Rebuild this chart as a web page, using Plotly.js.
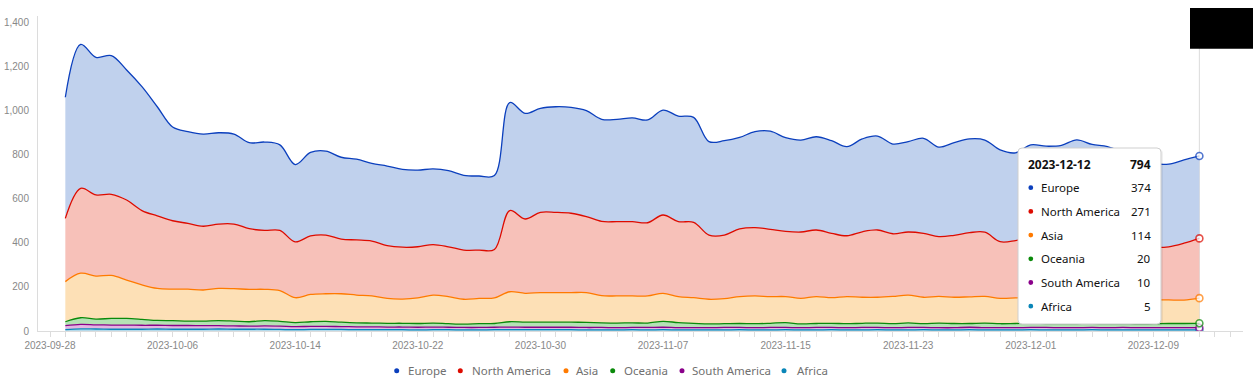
<!DOCTYPE html>
<html><head><meta charset="utf-8">
<script src="https://cdn.plot.ly/plotly-3.0.1.min.js"></script>
<style>html,body{margin:0;padding:0;background:#fff;}#chart{width:1253px;height:382px;}</style>
</head><body><div id="chart"></div>
<script>
const dates = ['2023-09-29','2023-09-30','2023-10-01','2023-10-02','2023-10-03','2023-10-04','2023-10-05','2023-10-06','2023-10-07','2023-10-08',
'2023-10-09','2023-10-10','2023-10-11','2023-10-12','2023-10-13','2023-10-14','2023-10-15','2023-10-16','2023-10-17','2023-10-18',
'2023-10-19','2023-10-20','2023-10-21','2023-10-22','2023-10-23','2023-10-24','2023-10-25','2023-10-26','2023-10-27','2023-10-28',
'2023-10-29','2023-10-30','2023-10-31','2023-11-01','2023-11-02','2023-11-03','2023-11-04','2023-11-05','2023-11-06','2023-11-07',
'2023-11-08','2023-11-09','2023-11-10','2023-11-11','2023-11-12','2023-11-13','2023-11-14','2023-11-15','2023-11-16','2023-11-17',
'2023-11-18','2023-11-19','2023-11-20','2023-11-21','2023-11-22','2023-11-23','2023-11-24','2023-11-25','2023-11-26','2023-11-27',
'2023-11-28','2023-11-29','2023-11-30','2023-12-01','2023-12-02','2023-12-03','2023-12-04','2023-12-05','2023-12-06','2023-12-07',
'2023-12-08','2023-12-09','2023-12-10','2023-12-11','2023-12-12'];

const europe = [549,653,624,629,590,562,495,425,416,418, 414,408,390,401,388,351,379,381,371,366, 352,361,353,348,343,345,339,336,335,490, 479,472,479,480,480,463,464,471,466,476, 479,476,424,428,415,435,445,425,417,423, 420,404,421,426,407,410,431,406,420,425, 418,416,398,419,408,407,437,426,426,410, 390,380,375,378,374];
const northAmerica = [287,385,368,368,363,337,329,310,298,289, 292,293,275,267,273,253,265,266,248,250, 249,239,235,232,229,226,223,219,220,368, 337,364,364,360,345,337,337,337,332,355, 340,342,291,288,307,310,305,296,301,302, 292,276,297,305,284,286,290,271,281,291, 291,257,260,273,280,287,280,272,264,255, 247,238,241,258,271];
const asia = [182,202,195,195,174,156,145,143,145,141, 146,147,147,142,139,113,124,125,129,126, 123,113,110,116,127,123,113,115,116,136, 131,134,134,134,135,123,123,122,123,127, 118,116,112,114,122,126,121,118,116,122, 116,123,118,117,124,126,120,121,119,121, 121,115,116,117,116,115,116,113,113,111, 111,109,107,106,114];
const oceania = [18,30,26,30,30,27,22,22,20,21, 23,22,20,24,22,18,21,23,20,18, 17,17,17,17,18,16,15,17,17,24, 23,23,23,23,23,21,21,21,20,27, 23,20,17,17,18,18,19,22,17,18, 19,18,19,20,18,21,17,21,19,17, 21,18,19,19,18,18,19,19,18,18, 17,18,19,19,20];
const southAmerica = [18,20,19,19,19,18,17,17,17,16, 15,15,14,15,15,14,14,14,13,13, 13,12,12,12,12,11,11,11,11,12, 11,11,11,11,11,11,10,10,11,11, 10,10,10,11,10,10,11,10,10,11, 10,10,11,10,10,11,10,10,10,11, 10,10,10,10,11,10,10,10,10,11, 10,10,10,10,10];
const africa = [6,10,9,8,8,8,9,8,8,8, 9,8,8,8,7,6,7,7,7,6, 6,6,6,5,6,6,5,5,6,6, 6,6,6,6,5,5,5,6,5,6, 5,5,5,5,6,5,5,6,5,5, 6,5,5,6,5,5,6,5,5,6, 5,5,5,6,5,5,5,6,5,5, 5,5,5,5,5];

const legendNames = ['Europe','North America','Asia','Oceania','South America','Africa'];
const xTickStart = '2023-09-28';

// styling
const series = [
  {name:'Africa', y:africa, line:'#0a86b8', fill:'#b3d9ea'},
  {name:'South America', y:southAmerica, line:'#8a008a', fill:'#e2b7e2'},
  {name:'Oceania', y:oceania, line:'#0a8a0a', fill:'#b5e2b5'},
  {name:'Asia', y:asia, line:'#ff7a00', fill:'#fde0b6'},
  {name:'North America', y:northAmerica, line:'#dd0b00', fill:'#f7c1b9'},
  {name:'Europe', y:europe, line:'#0b3fbd', fill:'#c0d1ed'}
];
const colorOf = {};
series.forEach(s => colorOf[s.name] = s.line);

const n = dates.length;
const traces = series.map(s => ({
  x: dates, y: s.y, name: s.name, type: 'scatter', mode: 'lines+markers',
  stackgroup: 'one', fillcolor: s.fill,
  line: {shape: 'spline', smoothing: 1, width: 1.3, color: s.line},
  marker: {size: dates.map((d,i)=> i===n-1 ? 7 : 0), color: '#fff',
           line: {color: s.line, width: dates.map((d,i)=> i===n-1 ? 1.6 : 0)}},
  hoverinfo: 'skip', showlegend: false
}));

const L = 38, R = 1243, T = 16, B = 331;
const X = px => (px - L) / (R - L);
const Y = py => (B - py) / (B - T);

const shapes = [];
const annotations = [];

// hover spike line
shapes.push({type:'line', xref:'x', yref:'paper', x0: dates[n-1], x1: dates[n-1], y0: 0, y1: 1, line:{color:'#dcdcdc', width:1}, layer:'below'});

// tooltip box (rounded)
function roundRect(x0,y0,x1,y1,r){
  return `M ${X(x0+r)} ${Y(y0)} L ${X(x1-r)} ${Y(y0)} Q ${X(x1)} ${Y(y0)} ${X(x1)} ${Y(y0+r)} L ${X(x1)} ${Y(y1-r)} Q ${X(x1)} ${Y(y1)} ${X(x1-r)} ${Y(y1)} L ${X(x0+r)} ${Y(y1)} Q ${X(x0)} ${Y(y1)} ${X(x0)} ${Y(y1-r)} L ${X(x0)} ${Y(y0+r)} Q ${X(x0)} ${Y(y0)} ${X(x0+r)} ${Y(y0)} Z`;
}
shapes.push({type:'path', xref:'paper', yref:'paper', path: roundRect(1019,149.5,1163,325.5,4), fillcolor:'rgba(0,0,0,0.06)', line:{width:0}});
shapes.push({type:'path', xref:'paper', yref:'paper', path: roundRect(1018,148,1161,324,4), fillcolor:'#ffffff', line:{color:'#cfcfcf', width:1}});

const tipFont = {family:'Noto Sans, Open Sans, sans-serif', size:11.5, color:'#111'};
const total = europe[n-1]+northAmerica[n-1]+asia[n-1]+oceania[n-1]+southAmerica[n-1]+africa[n-1];
annotations.push({xref:'paper', yref:'paper', x:X(1026), y:Y(164), xanchor:'left', yanchor:'middle', showarrow:false, text:'<b>'+dates[n-1]+'</b>', font:{family:tipFont.family, size:12, color:'#111'}});
annotations.push({xref:'paper', yref:'paper', x:X(1153), y:Y(164), xanchor:'right', yanchor:'middle', showarrow:false, text:'<b>'+total+'</b>', font:{family:tipFont.family, size:12, color:'#111'}});
const lastVals = {'Europe':europe[n-1],'North America':northAmerica[n-1],'Asia':asia[n-1],'Oceania':oceania[n-1],'South America':southAmerica[n-1],'Africa':africa[n-1]};
legendNames.forEach((nm, k) => {
  const cy = 187.7 + k*23.7;
  shapes.push({type:'circle', xref:'paper', yref:'paper', x0:X(1028.4), x1:X(1033.2), y0:Y(cy+2.4), y1:Y(cy-2.4), fillcolor:colorOf[nm], line:{width:0}});
  annotations.push({xref:'paper', yref:'paper', x:X(1039), y:Y(cy), xanchor:'left', yanchor:'middle', showarrow:false, text:nm, font:tipFont});
  annotations.push({xref:'paper', yref:'paper', x:X(1153), y:Y(cy), xanchor:'right', yanchor:'middle', showarrow:false, text:String(lastVals[nm]), font:tipFont});
});

// bottom legend
const legDots = [396.7, 460.3, 566, 612.7, 682, 784];
const legText = [406, 469.5, 573.5, 621.5, 690, 795];
const legFont = {family:'Noto Sans, Open Sans, sans-serif', size:11.5, color:'#707070'};
legendNames.forEach((nm,k) => {
  const cy = 370.7;
  shapes.push({type:'circle', xref:'paper', yref:'paper', x0:X(legDots[k]-2.5), x1:X(legDots[k]+2.5), y0:Y(cy+2.5), y1:Y(cy-2.5), fillcolor:colorOf[nm], line:{width:0}});
  annotations.push({xref:'paper', yref:'paper', x:X(legText[k]), y:Y(cy), xanchor:'left', yanchor:'middle', showarrow:false, text:nm, font:legFont});
});

// black box at top right
shapes.push({type:'rect', xref:'paper', yref:'paper', x0:X(1190), x1:X(1253), y0:Y(48.7), y1:Y(8), fillcolor:'#000', line:{width:0}});

const axisFont = {family:'Liberation Sans, Arial, sans-serif', size:10, color:'#888'};
const layout = {
  width:1253, height:382,
  margin:{l:L, r:1253-R, t:T, b:382-B},
  paper_bgcolor:'#fff', plot_bgcolor:'#fff',
  showlegend:false, hovermode:false,
  xaxis:{type:'date', range:['2023-09-27 05:12','2023-12-14 20:20'],
    tick0:xTickStart, dtick:8*86400000, tickformat:'%Y-%m-%d',
    ticks:'outside', ticklen:5, tickcolor:'#dcdcdc', tickwidth:1,
    minor:{ticks:'outside', ticklen:5, tickcolor:'#dcdcdc', dtick:86400000, tick0:xTickStart, showgrid:false},
    showline:true, linecolor:'#dcdcdc', linewidth:1, showgrid:false, zeroline:false,
    tickfont:axisFont, fixedrange:true},
  yaxis:{range:[0,1428.6], dtick:200, tick0:0, tickformat:',d',
    showline:true, linecolor:'#dcdcdc', linewidth:1, showgrid:false, zeroline:false,
    ticks:'', ticklabelstandoff:6, tickfont:axisFont, fixedrange:true},
  shapes: shapes, annotations: annotations
};
Plotly.newPlot('chart', traces, layout, {staticPlot:true, displayModeBar:false});
</script></body></html>
